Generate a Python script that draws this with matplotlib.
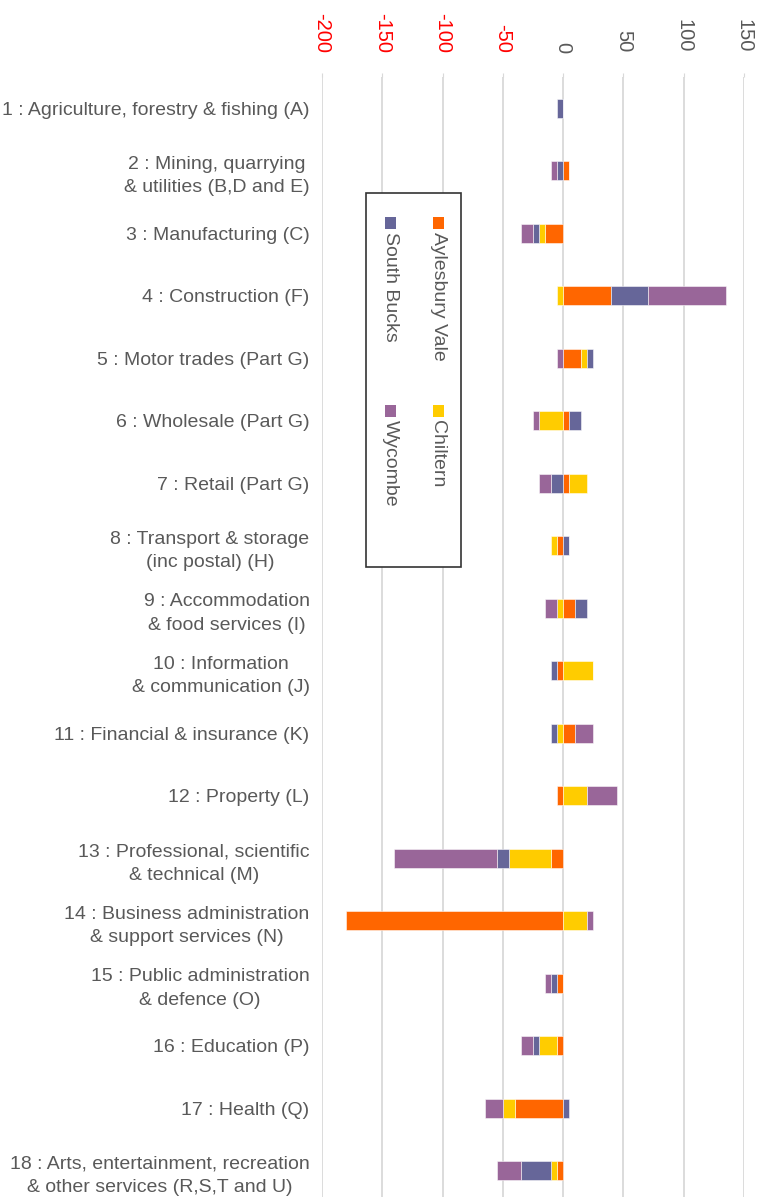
import matplotlib.pyplot as plt
import matplotlib.patches as mpatches
import numpy as np

plt.rcParams["font.family"] = ["Liberation Sans", "DejaVu Sans"]

# ── data ──────────────────────────────────────
sectors = [
    "1 : Agriculture, forestry & fishing (A)",
    "2 : Mining, quarrying\n& utilities (B,D and E)",
    "3 : Manufacturing (C)",
    "4 : Construction (F)",
    "5 : Motor trades (Part G)",
    "6 : Wholesale (Part G)",
    "7 : Retail (Part G)",
    "8 : Transport & storage\n(inc postal) (H)",
    "9 : Accommodation\n& food services (I)",
    "10 : Information\n& communication (J)",
    "11 : Financial & insurance (K)",
    "12 : Property (L)",
    "13 : Professional, scientific\n& technical (M)",
    "14 : Business administration\n& support services (N)",
    "15 : Public administration\n& defence (O)",
    "16 : Education (P)",
    "17 : Health (Q)",
    "18 : Arts, entertainment, recreation\n& other services (R,S,T and U)",
]

aylesbury_vale = [0, 5, -15, 40, 15, 5, 5, -5, 10, -5, 10, -5, -10, -180, -5, -5, -40, -5]
chiltern = [0, 0, -5, -5, 5, -20, 15, -5, -5, 25, -5, 20, -35, 20, 0, -15, -10, -5]
south_bucks = [-5, -5, -5, 30, 5, 10, -10, 5, 10, -5, -5, 0, -10, 0, -5, -5, 5, -25]
wycombe = [0, -5, -10, 65, -5, -5, -10, 0, -10, 0, 15, 25, -85, 5, -5, -10, -15, -20]

districts = ["Aylesbury Vale", "Chiltern", "South Bucks", "Wycombe"]
series = [aylesbury_vale, chiltern, south_bucks, wycombe]
colors = ["#FF6600", "#FFCC00", "#666699", "#996699"]

x_ticks = [-200, -150, -100, -50, 0, 50, 100, 150]

# ── figure ────────────────────────────────────
W, H = 767, 1197
fig = plt.figure(figsize=(W / 100, H / 100), dpi=100)


def fx(px):
    return px / W


def fy(py):
    return 1 - py / H


ax = fig.add_axes([fx(322), 0, fx(744) - fx(322), fy(77)])

y = np.arange(len(sectors))
pos_base = np.zeros(len(sectors))
neg_base = np.zeros(len(sectors))
for name, vals, col in zip(districts, series, colors):
    vals = np.array(vals, dtype=float)
    left = np.where(vals >= 0, pos_base, neg_base)
    ax.barh(y, vals, left=left, height=0.31, color=col,
            edgecolor=(1, 1, 1, 0.6), linewidth=0.6, zorder=3, label=name)
    pos_base += np.clip(vals, 0, None)
    neg_base += np.clip(vals, None, 0)

ax.set_xlim(-200, 150)
ax.set_ylim(len(sectors) - 0.58, -0.5)
ax.set_xticks(x_ticks)
ax.grid(axis="x", color="#D9D9D9", linewidth=1.3, zorder=0)
ax.grid(axis="y", visible=False)
for s in ax.spines.values():
    s.set_visible(False)

ax.xaxis.tick_top()
ax.tick_params(axis="x", length=3, color="#D9D9D9", pad=14.5)
ax.set_xticklabels([str(t) for t in x_ticks], rotation=270, fontsize=14.5,
                   va="bottom", ha="center")
for lbl, t in zip(ax.get_xticklabels(), x_ticks):
    lbl.set_color("#FF0000" if t < 0 else "#595959")

ax.set_yticks(y)
ax.set_yticklabels(sectors, fontsize=14, color="#595959",
                   multialignment="center", linespacing=1.5)
ax.tick_params(axis="y", length=0, pad=9)

# rotated legend, drawn by hand
fig.patches.append(mpatches.Rectangle((fx(366), fy(567)), fx(461) - fx(366),
                                      fy(193) - fy(567), transform=fig.transFigure,
                                      facecolor="white", edgecolor="#333333",
                                      linewidth=1.2, zorder=5))
legend_pos = {
    "Aylesbury Vale": (438, 223),
    "Chiltern": (438, 411),
    "South Bucks": (390, 223),
    "Wycombe": (390, 411),
}
for name, col in zip(districts, colors):
    cx, cy = legend_pos[name]
    fig.patches.append(mpatches.Rectangle((fx(cx - 5.5), fy(cy + 5.5)), fx(11), 11 / H,
                                          transform=fig.transFigure, facecolor=col,
                                          edgecolor="none", zorder=6))
    fig.text(fx(cx), fy(cy + 9), name, rotation=270, ha="center", va="top",
             fontsize=14, color="#595959", zorder=7)

fig.savefig("out.png", dpi=100)
